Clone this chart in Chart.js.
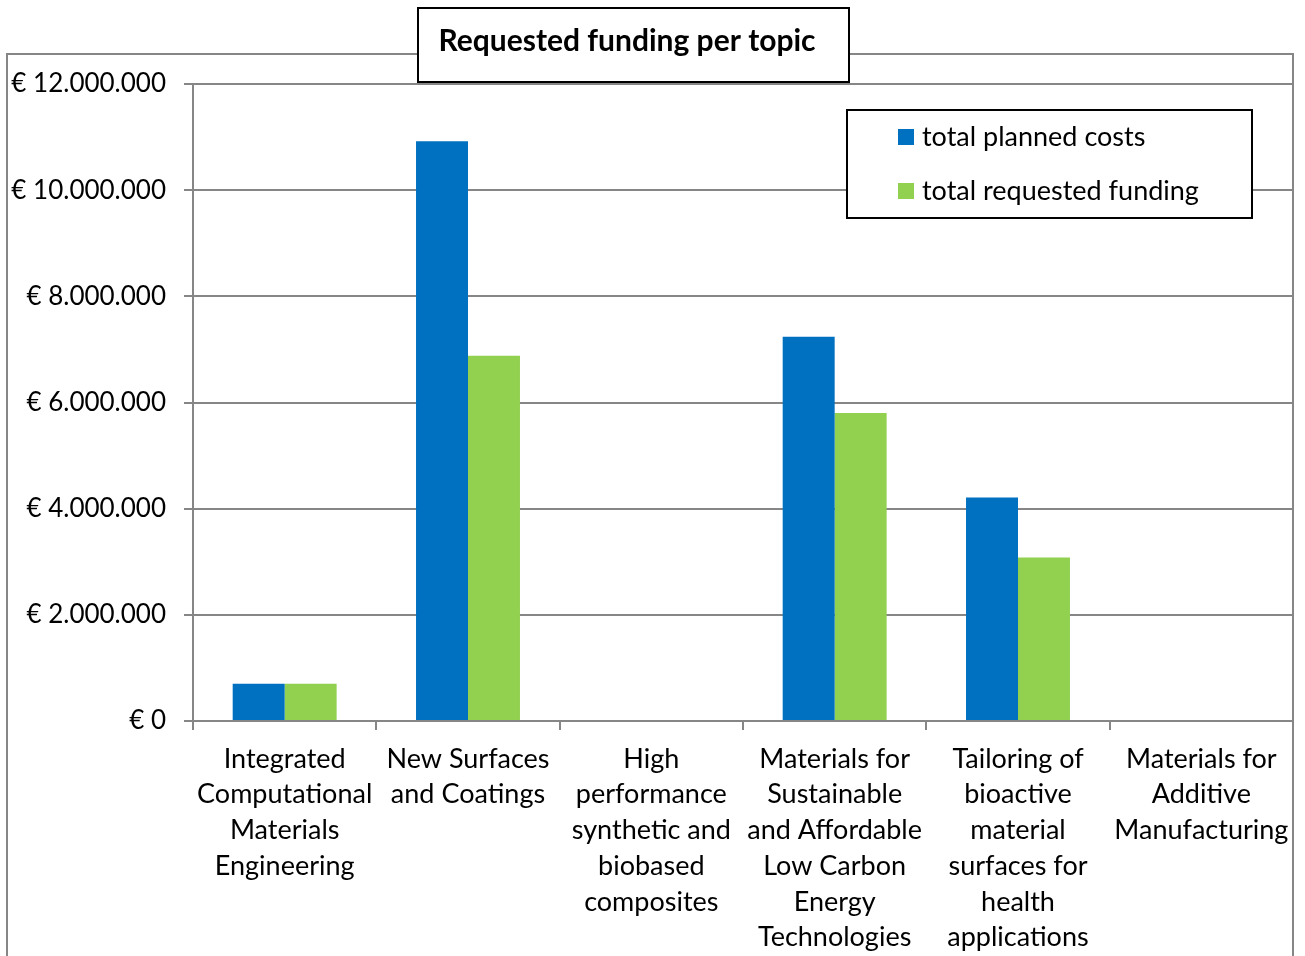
<!DOCTYPE html>
<html>
<head>
<meta charset="utf-8">
<script src="https://cdn.jsdelivr.net/npm/chart.js@4"></script>
<style>
  html, body { margin: 0; padding: 0; background: #fff; }
  #wrap { width: 1305px; height: 956px; position: relative; }
</style>
</head>
<body>
<div id="wrap"><canvas id="chart" width="1305" height="956"></canvas></div>
<script>
// ── DATA ────────────────────────────────────────────────────────────
var TITLE = "Requested funding per topic";
var topics = [
    ["Integrated", "Computational", "Materials", "Engineering"],
    ["New Surfaces", "and Coatings"],
    ["High", "performance", "synthetic and", "biobased", "composites"],
    ["Materials for", "Sustainable", "and Affordable", "Low Carbon", "Energy", "Technologies"],
    ["Tailoring of", "bioactive", "material", "surfaces for", "health", "applications"],
    ["Materials for", "Additive", "Manufacturing"]
];
var plannedCosts = [700000, 10920000, 0, 7240000, 4210000, 0];
var requestedFunding = [700000, 6880000, 0, 5800000, 3080000, 0];
var seriesNames = ["total planned costs", "total requested funding"];
var yTicks = [0, 2000000, 4000000, 6000000, 8000000, 10000000, 12000000];

// ── STYLE ───────────────────────────────────────────────────────────
var FONT = "Lato, 'Open Sans', sans-serif";
var BLUE = "#0070C0";
var GREEN = "#92D050";
var GRID = "#868686";

function euro(v) {
    return "€ " + String(v).replace(/\B(?=(\d{3})+(?!\d))/g, ".");
}

// ── FRAME, TITLE BOX, LEGEND BOX ────────────────────────────────────
var boxes = {
    id: "boxes",
    beforeDraw: function (chart) {
        var c = chart.ctx;
        c.save();
        c.strokeStyle = GRID;
        c.lineWidth = 2;
        c.strokeRect(7, 54, chart.chartArea.right - 7, 960);
        c.restore();
    },
    afterDraw: function (chart) {
        var c = chart.ctx;
        c.save();
        // title
        c.fillStyle = "#fff";
        c.fillRect(418, 8, 431, 74);
        c.strokeStyle = "#000";
        c.lineWidth = 2;
        c.strokeRect(418, 8, 431, 74);
        c.fillStyle = "#000";
        c.font = "bold 30px " + FONT;
        c.textAlign = "center";
        c.textBaseline = "middle";
        c.fillText(TITLE, 627, 41);
        // legend
        c.fillStyle = "#fff";
        c.fillRect(847, 110, 405, 108);
        c.strokeRect(847, 110, 405, 108);
        c.font = "27px " + FONT;
        c.textAlign = "left";
        var ds = chart.data.datasets;
        for (var i = 0; i < ds.length; i++) {
            var y = 137 + i * 54;
            c.fillStyle = ds[i].backgroundColor;
            c.fillRect(898, y - 8, 16, 16);
            c.fillStyle = "#000";
            c.fillText(ds[i].label, 922, y);
        }
        c.restore();
    }
};

// ── CHART ───────────────────────────────────────────────────────────
new Chart(document.getElementById("chart"), {
    type: "bar",
    data: {
        labels: topics,
        datasets: [
            { label: seriesNames[0], data: plannedCosts, backgroundColor: BLUE,
              categoryPercentage: 0.567, barPercentage: 1 },
            { label: seriesNames[1], data: requestedFunding, backgroundColor: GREEN,
              categoryPercentage: 0.567, barPercentage: 1 }
        ]
    },
    options: {
        responsive: false,
        animation: false,
        layout: { padding: { top: 84, right: 12, left: 0, bottom: 0 } },
        plugins: {
            legend: { display: false },
            title: { display: false },
            tooltip: { enabled: false }
        },
        scales: {
            x: {
                afterFit: function (s) { s.height = 235; },
                grid: { drawOnChartArea: false, drawTicks: true, tickLength: 9,
                        color: GRID, lineWidth: 2, offset: true },
                border: { color: GRID, width: 2 },
                ticks: {
                    color: "#000", maxRotation: 0, autoSkip: false, padding: 11,
                    font: { family: FONT, size: 27, lineHeight: 1.325 }
                }
            },
            y: {
                min: 0, max: 12000000,
                afterFit: function (s) { s.width = 193; },
                afterBuildTicks: function (s) {
                    s.ticks = yTicks.map(function (v) { return { value: v }; });
                },
                grid: { color: GRID, lineWidth: 2, tickLength: 9 },
                border: { color: GRID, width: 2 },
                ticks: {
                    color: "#000", padding: 18,
                    font: { family: FONT, size: 26 },
                    callback: function (v) { return euro(v); }
                }
            }
        }
    },
    plugins: [boxes]
});
</script>
</body>
</html>
